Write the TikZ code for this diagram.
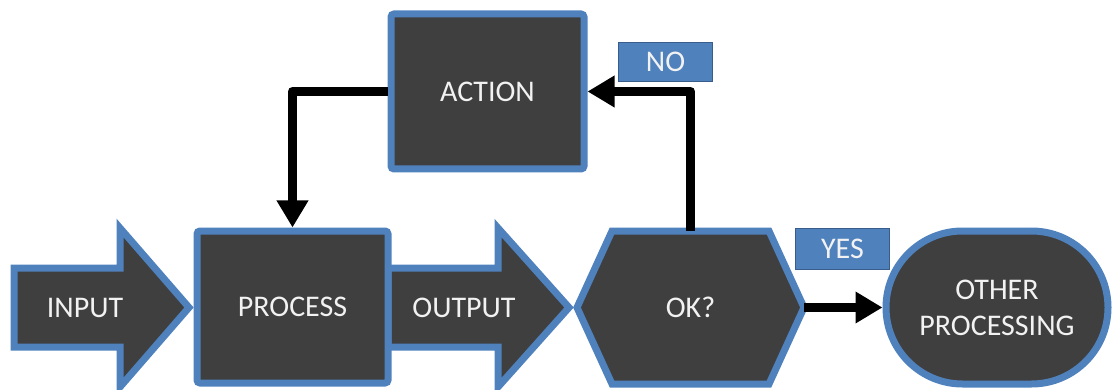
\documentclass[tikz,border=0pt]{standalone}
\usepackage{fontspec}
\setmainfont{Carlito}
\usetikzlibrary{arrows.meta,shapes.misc}
\definecolor{boxfill}{HTML}{3F3F3F}
\definecolor{boxline}{HTML}{4F81BD}
\definecolor{tagline}{HTML}{385D8A}
\definecolor{txt}{HTML}{F2F2F2}
\begin{document}
\begin{tikzpicture}[x=1pt,y=-1pt,
  shapestyle/.style={fill=boxfill,draw=boxline,line width=7pt,line join=miter},
  txtstyle/.style={text=txt,font=\fontsize{30}{36}\selectfont},
  boxnode/.style={shapestyle,txtstyle,rounded corners=3pt,inner sep=0pt},
  plainlabel/.style={txtstyle,inner sep=0pt},
  tag/.style={fill=boxline,draw=tagline,line width=1.2pt,txtstyle,inner sep=0pt},
  conn/.style={draw=black,line width=9pt,line join=round,-{Triangle[length=27pt,width=30pt]}}
]
\useasboundingbox (0,0) rectangle (1113,390);

% INPUT arrow
\draw[shapestyle] (14,268) -- (120,268) -- (120,228) -- (189,307.5) -- (120,387) -- (120,347) -- (14,347) -- cycle;
\node[plainlabel] (input) at (85,308) {INPUT};

% OUTPUT arrow (drawn below PROCESS)
\draw[shapestyle] (388,268) -- (498,268) -- (498,228) -- (569,307.5) -- (498,387) -- (498,347) -- (388,347) -- cycle;
\node[plainlabel] (output) at (464,308) {OUTPUT};

% PROCESS
\node[boxnode,minimum width=191pt,minimum height=152pt] (process) at (292.5,307) {PROCESS};

% ACTION
\node[boxnode,minimum width=193pt,minimum height=155pt] (action) at (487.5,91.5) {ACTION};

% OK? hexagon
\draw[shapestyle] (577,307.5) -- (612,231) -- (769,231) -- (804,307.5) -- (769,384) -- (612,384) -- cycle;
\node[plainlabel,minimum width=227pt,minimum height=153pt] (ok) at (690.5,307.5) {OK?};

% OTHER PROCESSING
\node[shapestyle,txtstyle,rounded rectangle,inner sep=0pt,align=center,
      minimum width=222pt,minimum height=153pt] (other) at (997,307.5) {OTHER\\PROCESSING};

% Tags
\node[tag,minimum width=94pt,minimum height=39pt] (no) at (665.5,62) {NO};
\node[tag,minimum width=94pt,minimum height=41pt] (yes) at (842.5,249) {YES};

% Connectors
\draw[conn] (action.west) -| (process.north);
\draw[conn] (ok.north) |- (action.east);
\draw[conn] (ok.east) -- (other.west);
\end{tikzpicture}
\end{document}
